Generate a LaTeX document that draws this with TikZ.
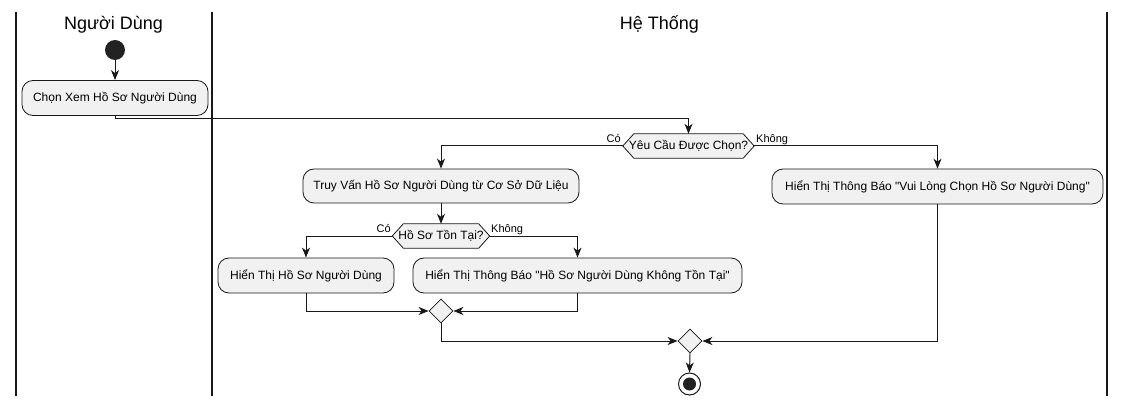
\documentclass[tikz,border=0pt]{standalone}
\usepackage{fontspec}
\newfontfamily\lsans{Liberation Sans}
\usetikzlibrary{shapes.geometric,arrows.meta,backgrounds}
\definecolor{boxfill}{HTML}{F1F1F1}
\definecolor{edge}{HTML}{181818}
\definecolor{dot}{HTML}{222222}
\begin{document}
\begin{tikzpicture}[x=1pt,y=-1pt,
  font=\lsans\fontsize{12}{14}\selectfont,
  lane/.style={draw=edge, line width=1.5pt},
  title/.style={font=\lsans\fontsize{18}{21}\selectfont, anchor=base, inner sep=0pt},
  act/.style={draw=edge, fill=boxfill, rounded corners=11pt, line width=0.8pt, inner sep=0pt},
  hexlbl/.style={draw=none, inner sep=0pt, minimum height=24pt},
  hexshape/.style={draw=edge, fill=boxfill, line width=0.8pt},
  merge/.style={diamond, aspect=1, draw=edge, fill=boxfill, line width=0.8pt, inner sep=0pt, minimum width=24pt, minimum height=24pt},
  startdot/.style={circle, fill=dot, inner sep=0pt, minimum size=20pt},
  endring/.style={circle, draw=edge, fill=white, line width=1pt, inner sep=0pt, minimum size=22pt},
  enddot/.style={circle, fill=dot, inner sep=0pt, minimum size=13pt},
  lbl/.style={font=\lsans\fontsize{11}{13}\selectfont, inner sep=0pt},
  flow/.style={draw=edge, line width=1pt, -{Stealth[length=10pt,width=8pt,inset=3pt]}}
]
\useasboundingbox (0,0) rectangle (1124,406);

% swimlanes
\draw[lane] (16,12) -- (16,396);
\draw[lane] (212,12) -- (212,396);
\draw[lane] (1107,12) -- (1107,396);
\node[title] (t1) at (113.5,30) {Người Dùng};
\node[title] (t2) at (659.5,30) {Hệ Thống};

% nodes
\node[startdot] (s) at (115,50) {};
\node[act, minimum width=186pt, minimum height=35pt] (a1) at (115,98) {Chọn Xem Hồ Sơ Người Dùng};
\node[hexlbl, minimum width=131pt] (d1) at (688.5,146) {Yêu Cầu Được Chọn?};
\node[act, minimum width=276pt, minimum height=34pt] (a2) at (441,186) {Truy Vấn Hồ Sơ Người Dùng từ Cơ Sở Dữ Liệu};
\node[act, minimum width=331pt, minimum height=35pt] (a5) at (937.5,186.5) {Hiển Thị Thông Báo "Vui Lòng Chọn Hồ Sơ Người Dùng"};
\node[hexlbl, minimum width=97pt] (d2) at (441,236) {Hồ Sơ Tồn Tại?};
\node[act, minimum width=176pt, minimum height=35pt] (a3) at (306,275.5) {Hiển Thị Hồ Sơ Người Dùng};
\node[act, minimum width=329pt, minimum height=35pt] (a4) at (577.5,275.5) {Hiển Thị Thông Báo "Hồ Sơ Người Dùng Không Tồn Tại"};
\node[merge] (m1) at (441,311) {};
\node[merge] (m2) at (690,341) {};
\node[endring] (e) at (689.5,384) {};
\node[enddot] (e2) at (e) {};

% background and hexagon outlines
\begin{scope}[on background layer]
\fill[white] (0,0) rectangle (1124,406);
\foreach \h in {d1,d2}{
  \path[hexshape] (\h.west) -- ([xshift=11pt]\h.north west) -- ([xshift=-11pt]\h.north east)
    -- (\h.east) -- ([xshift=-11pt]\h.south east) -- ([xshift=11pt]\h.south west) -- cycle;
}
\end{scope}

% labels
\node[lbl, anchor=base east] (l1) at (621,143) {Có};
\node[lbl, anchor=base west] (l2) at (756,143) {Không};
\node[lbl, anchor=base east] (l3) at (391,233) {Có};
\node[lbl, anchor=base west] (l4) at (491,233) {Không};

% connectors
\draw[flow] (s) -- (a1);
\draw[flow] (a1.south) -- ++(0,3) -| (d1.north);
\draw[flow] (d1.west) -| (a2.north);
\draw[flow] (d1.east) -| (a5.north);
\draw[flow] (a2.south) -- (d2.north);
\draw[flow] (d2.west) -| (a3.north);
\draw[flow] (d2.east) -| (a4.north);
\draw[flow] (a3.south) |- (m1.west);
\draw[flow] (a4.south) |- (m1.east);
\draw[flow] (m1.south) |- (m2.west);
\draw[flow] (a5.south) |- (m2.east);
\draw[flow] (m2.south) -- (e.north);
\end{tikzpicture}
\end{document}
